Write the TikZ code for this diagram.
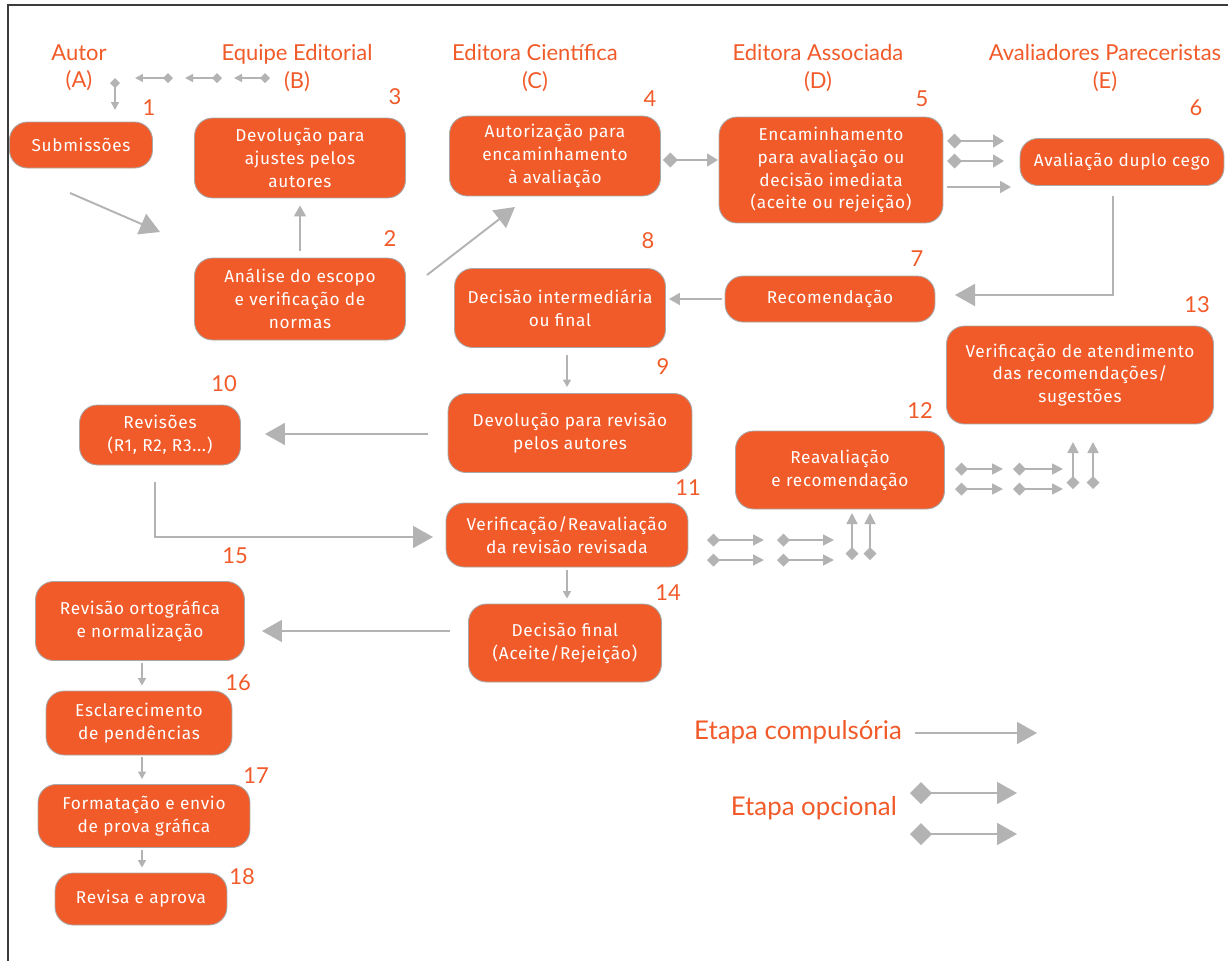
\documentclass[tikz,border=0pt]{standalone}
\usepackage{fontspec}
\setmainfont{Lato}
\newfontfamily\boxfamily[LetterSpace=4]{Fira Sans}
\usetikzlibrary{arrows.meta}
\definecolor{orng}{HTML}{F15A29}
\definecolor{arrgray}{HTML}{B3B3B3}
\definecolor{boxline}{HTML}{A8A8A8}
\definecolor{frameline}{HTML}{3C3C3C}
\tikzset{
  box/.style={draw=boxline, line width=0.5pt, fill=orng, rounded corners=0.36cm, text=white,
    align=center, inner sep=0pt, font=\boxfamily\fontsize{9.8}{13}\selectfont},
  head/.style={text=orng, align=center, font=\fontsize{12.5}{15.5}\selectfont},
  num/.style={text=orng, font=\fontsize{12.5}{14}\selectfont},
  leg/.style={text=orng, anchor=east, font=\fontsize{14.7}{17}\selectfont},
  comp/.style={draw=arrgray, line width=1.1pt, -{Triangle[length=0.4cm,width=0.44cm]}},
  compmid/.style={draw=arrgray, line width=1pt, -{Triangle[length=0.22cm,width=0.24cm]}},
  compsmall/.style={draw=arrgray, line width=0.9pt, -{Triangle[length=0.15cm,width=0.16cm]}},
  opt/.style={draw=arrgray, line width=1pt, {Turned Square[length=0.3cm,width=0.3cm]}-{Triangle[length=0.22cm,width=0.26cm]}},
  optsmall/.style={draw=arrgray, line width=1pt, {Turned Square[length=0.26cm,width=0.26cm]}-{Triangle[length=0.22cm,width=0.22cm]}},
  optlegend/.style={draw=arrgray, line width=1.1pt, {Turned Square[length=0.44cm,width=0.44cm]}-{Triangle[length=0.4cm,width=0.44cm]}},
  headopt/.style={draw=arrgray, line width=0.8pt, {Turned Square[length=0.2cm,width=0.2cm]}-{Triangle[length=0.16cm,width=0.16cm]}},
}
\begin{document}
\begin{tikzpicture}[x=0.02cm, y=-0.02cm]
\useasboundingbox (0,0) rectangle (1228,961);
\draw[frameline, line width=1.2pt] (8,961) -- (8,5) -- (1228,5); % frame

% column heads
\node[head] (hA) at (79,68) {Autor\\(A)};
\node[head] (hB) at (297,68) {Equipe Editorial\\(B)};
\node[head] (hC) at (535,68) {Editora Científica\\(C)};
\node[head] (hD) at (818,68) {Editora Associada\\(D)};
\node[head] (hE) at (1105,68) {Avaliadores Pareceristas\\(E)};
\draw[headopt] (115,78) -- (115,110);
\foreach \xa/\xb in {173/135, 222/185, 270/234}
  \draw[headopt] (\xa,78) -- (\xb,78);

% steps
\node[box, minimum width=2.86cm, minimum height=0.92cm] (n1) at (81,145) {Submissões};
\node[box, minimum width=4.22cm, minimum height=1.64cm] (n2) at (300,299) {Análise do escopo\\e verificação de\\normas};
\node[box, minimum width=4.22cm, minimum height=1.6cm] (n3) at (300,158) {Devolução para\\ajustes pelos\\autores};
\node[box, minimum width=4.22cm, minimum height=1.6cm] (n4) at (555,156) {Autorização para\\encaminhamento\\à avaliação};
\node[box, minimum width=4.48cm, minimum height=2.12cm] (n5) at (831,170) {Encaminhamento\\para avaliação ou\\decisão imediata\\(aceite ou rejeição)};
\node[box, minimum width=4.08cm, minimum height=0.94cm] (n6) at (1122,162) {Avaliação duplo cego};
\node[box, minimum width=4.2cm, minimum height=0.92cm] (n7) at (830,299) {Recomendação};
\node[box, minimum width=4.22cm, minimum height=1.58cm] (n8) at (560,308) {Decisão intermediária\\ou final};
\node[box, minimum width=4.88cm, minimum height=1.58cm] (n9) at (570,433) {Devolução para revisão\\pelos autores};
\node[box, minimum width=3.22cm, minimum height=1.2cm] (n10) at (160,435) {Revisões\\(R1, R2, R3...)};
\node[box, minimum width=4.84cm, minimum height=1.28cm] (n11) at (567,535) {Verificação/Reavaliação\\da revisão revisada};
\node[box, minimum width=4.18cm, minimum height=1.56cm] (n12) at (840,470) {Reavaliação\\e recomendação};
\node[box, minimum width=5.34cm, minimum height=1.96cm] (n13) at (1080,375) {Verificação de atendimento\\das recomendações/\\sugestões};
\node[box, minimum width=3.86cm, minimum height=1.56cm] (n14) at (565,643) {Decisão final\\(Aceite/Rejeição)};
\node[box, minimum width=4.18cm, minimum height=1.58cm] (n15) at (140,621) {Revisão ortográfica\\e normalização};
\node[box, minimum width=3.72cm, minimum height=1.28cm] (n16) at (139,723) {Esclarecimento\\de pendências};
\node[box, minimum width=4.24cm, minimum height=1.26cm] (n17) at (144,816) {Formatação e envio\\de prova gráfica};
\node[box, minimum width=3.44cm, minimum height=1.04cm] (n18) at (141,899) {Revisa e aprova};

% step numbers
\foreach \k/\x/\y in {1/149/108, 2/390/239, 3/395/97, 4/650/99, 5/922/99, 6/1196/108,
  7/917/259, 8/648/241, 9/663/367, 10/224/384, 11/688/488, 12/920/411, 13/1197/305,
  14/668/593, 15/235/556, 16/238/683, 17/256/776, 18/242/877}
  \node[num] (k\k) at (\x,\y) {\k};

% compulsory steps
\draw[comp] (70,193) -- (160,232);
\draw[compmid, shorten <=0.14cm, shorten >=0.14cm] (n2.north) -- (n3.south);
\draw[comp] (427,275) -- (515,207);
\draw[comp] (1113,196) |- (955,295);
\draw[compmid, shorten <=0.06cm, shorten >=0.06cm] (n7.west) -- (n8.east |- n7.west);
\draw[compsmall, shorten <=0.14cm, shorten >=0.12cm] (n8.south -| 567,0) -- (n9.north -| 567,0);
\draw[comp] (428,434) -- (265,434);
\draw[comp] (155,482) |- (433,537);
\draw[compsmall, shorten <=0.06cm, shorten >=0.1cm] (n11.south -| 567,0) -- (n14.north -| 567,0);
\draw[comp] (450,631) -- (262,631);
\draw[compsmall, shorten <=0.04cm, shorten >=0.1cm] (n15.south -| 142,0) -- (n16.north -| 142,0);
\draw[compsmall, shorten <=0.04cm, shorten >=0.1cm] (n16.south -| 142,0) -- (n17.north -| 142,0);
\draw[compsmall, shorten <=0.04cm, shorten >=0.1cm] (n17.south -| 142,0) -- (n18.north -| 142,0);

% optional steps
\draw[opt, shorten <=0.04cm] (n4.east |- 0,160) -- (718,160);
\draw[opt] (947,141) -- (1004,141);
\draw[opt] (947,161) -- (1004,161);
\draw[compmid] (947,187) -- (1011,187);
\foreach \y in {540,560} {
  \draw[optsmall] (707,\y) -- (764,\y);
  \draw[optsmall] (777,\y) -- (834,\y);
}
\foreach \x in {852,870}
  \draw[optsmall] (\x,560) -- (\x,513);
\foreach \y in {469,489} {
  \draw[optsmall] (955,\y) -- (1003,\y);
  \draw[optsmall] (1013,\y) -- (1063,\y);
}
\foreach \x in {1073,1093}
  \draw[optsmall] (\x,489) -- (\x,442);

% legend
\node[leg] (lc) at (908,732) {Etapa compulsória};
\node[leg] (lo) at (903,808) {Etapa opcional};
\draw[comp] (915,733) -- (1037,733);
\draw[optlegend] (910,793) -- (1017,793);
\draw[optlegend] (910,834) -- (1017,834);
\end{tikzpicture}
\end{document}
